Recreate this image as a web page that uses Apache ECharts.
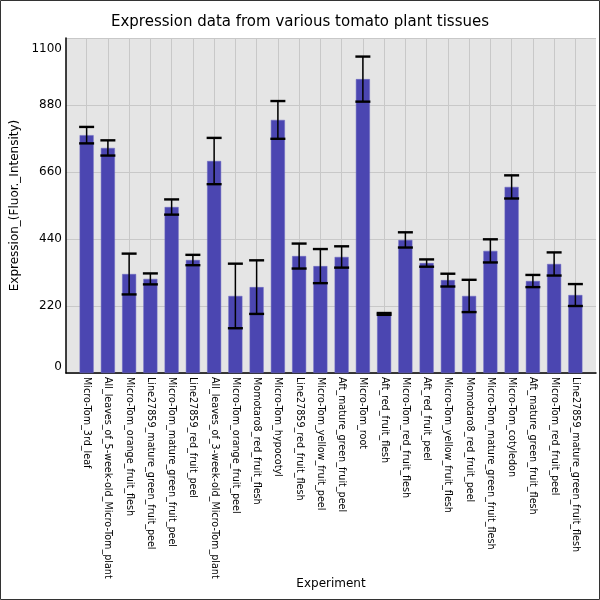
<!DOCTYPE html>
<html>
<head>
<meta charset="utf-8">
<script src="https://cdn.jsdelivr.net/npm/echarts@6/dist/echarts.min.js"></script>
<style>
  html, body {margin: 0; padding: 0; background: #fff;}
  #chart {width: 600px; height: 600px;}
</style>
</head>
<body>
<div id="chart"></div>
<script>
// categories (tissues)
var tissues = [
  "Micro-Tom_3rd_leaf",
  "All_leaves_of_5-week-old_Micro-Tom_plant",
  "Micro-Tom_orange_fruit_flesh",
  "Line27859_mature_green_fruit_peel",
  "Micro-Tom_mature_green_fruit_peel",
  "Line27859_red_fruit_peel",
  "All_leaves_of_3-week-old_Micro-Tom_plant",
  "Micro-Tom_orange_fruit_peel",
  "Momotaro8_red_fruit_flesh",
  "Micro-Tom_hypocotyl",
  "Line27859_red_fruit_flesh",
  "Micro-Tom_yellow_fruit_peel",
  "Aft_mature_green_fruit_peel",
  "Micro-Tom_root",
  "Aft_red_fruit_flesh",
  "Micro-Tom_red_fruit_flesh",
  "Aft_red_fruit_peel",
  "Micro-Tom_yellow_fruit_flesh",
  "Momotaro8_red_fruit_peel",
  "Micro-Tom_mature_green_fruit_flesh",
  "Micro-Tom_cotyledon",
  "Aft_mature_green_fruit_flesh",
  "Micro-Tom_red_fruit_peel",
  "Line27859_mature_green_fruit_flesh"
];
// mean expression
var expression = [781, 739, 325, 309, 545, 371, 696, 253, 282, 831, 384, 351,
                  381, 965, 194, 437, 361, 305, 253, 401, 611, 302, 358, 256];
// error (+/-)
var errors = [27, 25, 67, 18, 25, 17, 76, 106, 88, 62, 41, 56,
              35, 74, 3, 25, 12, 21, 53, 38, 38, 20, 38, 36];
var yTicks = [0, 220, 440, 660, 880, 1100];

var errData = [];
for (var i = 0; i < expression.length; i++) {
  errData.push([i, expression[i] - errors[i], expression[i] + errors[i]]);
}

var myChart = echarts.init(document.getElementById('chart'));
var font = 'DejaVu Sans';

var option = {
  animation: false,
  backgroundColor: '#fff',
  textStyle: {fontFamily: font},
  title: {
    text: 'Expression data from various tomato plant tissues',
    left: 'center', top: 10,
    textStyle: {fontFamily: font, fontSize: 15, fontWeight: 'normal', color: '#000'}
  },
  graphic: [{
    type: 'rect', silent: true, z: 100,
    shape: {x: 0.5, y: 0.5, width: 599, height: 599},
    style: {fill: 'none', stroke: '#333', lineWidth: 1}
  }],
  grid: [
    {left: 66, right: 4, top: 38, bottom: 227, show: true, backgroundColor: '#e5e5e5', borderWidth: 0},
    {left: 76, right: 14, top: 38, bottom: 227}
  ],
  xAxis: [{
    gridIndex: 0, type: 'value', min: 0, max: 1,
    axisLine: {show: true, lineStyle: {color: '#000', width: 1.5}},
    axisTick: {show: false}, axisLabel: {show: false}, splitLine: {show: false},
    name: 'Experiment', nameLocation: 'middle', nameGap: 205,
    nameTextStyle: {fontFamily: font, fontSize: 12, color: '#000'}
  }, {
    gridIndex: 1, type: 'category', data: tissues,
    axisLine: {show: false}, axisTick: {show: false},
    axisLabel: {rotate: -90, interval: 0, fontSize: 9.6, margin: 4, color: '#000', fontFamily: font},
    splitLine: {show: true, alignWithLabel: true, lineStyle: {color: '#c8c8c8', width: 1}}
  }],
  yAxis: [{
    gridIndex: 0, type: 'value', min: 0, max: 1100, interval: 220,
    axisLine: {show: true, lineStyle: {color: '#000', width: 1.5}},
    axisTick: {show: false},
    axisLabel: {
      fontSize: 12, color: '#000', margin: 4, fontFamily: font,
      verticalAlignMinLabel: 'bottom', verticalAlignMaxLabel: 'top',
      formatter: function (v) {
        if (yTicks.indexOf(v) < 0) return '';
        return v === 1100 ? '{t|' + v + '}' : String(v);
      },
      rich: {t: {fontSize: 12, fontFamily: font, color: '#000', padding: [5, 0, 0, 0]}}
    },
    splitLine: {show: true, lineStyle: {color: '#c8c8c8', width: 1}},
    name: 'Expression_(Fluor._Intensity)', nameLocation: 'middle', nameGap: 37,
    nameTextStyle: {fontFamily: font, fontSize: 12, color: '#000'}
  }, {
    gridIndex: 1, type: 'value', min: 0, max: 1100, show: false
  }],
  series: [{
    type: 'bar', xAxisIndex: 1, yAxisIndex: 1,
    data: expression, barWidth: 14,
    itemStyle: {color: '#4b46b1', borderColor: '#6a66c0', borderWidth: 0.5}
  }, {
    type: 'custom', xAxisIndex: 1, yAxisIndex: 1, z: 10,
    data: errData,
    renderItem: function (params, api) {
      var lo = api.coord([api.value(0), api.value(1)]);
      var hi = api.coord([api.value(0), api.value(2)]);
      var hw = 7.5;
      var st = {stroke: '#000', lineWidth: 1.5};
      var cap = {stroke: '#000', lineWidth: 2.4};
      return {
        type: 'group',
        children: [
          {type: 'line', shape: {x1: hi[0], y1: hi[1], x2: lo[0], y2: lo[1]}, style: st},
          {type: 'line', shape: {x1: hi[0] - hw, y1: hi[1], x2: hi[0] + hw, y2: hi[1]}, style: cap},
          {type: 'line', shape: {x1: lo[0] - hw, y1: lo[1], x2: lo[0] + hw, y2: lo[1]}, style: cap}
        ]
      };
    }
  }]
};
myChart.setOption(option);
</script>
</body>
</html>
